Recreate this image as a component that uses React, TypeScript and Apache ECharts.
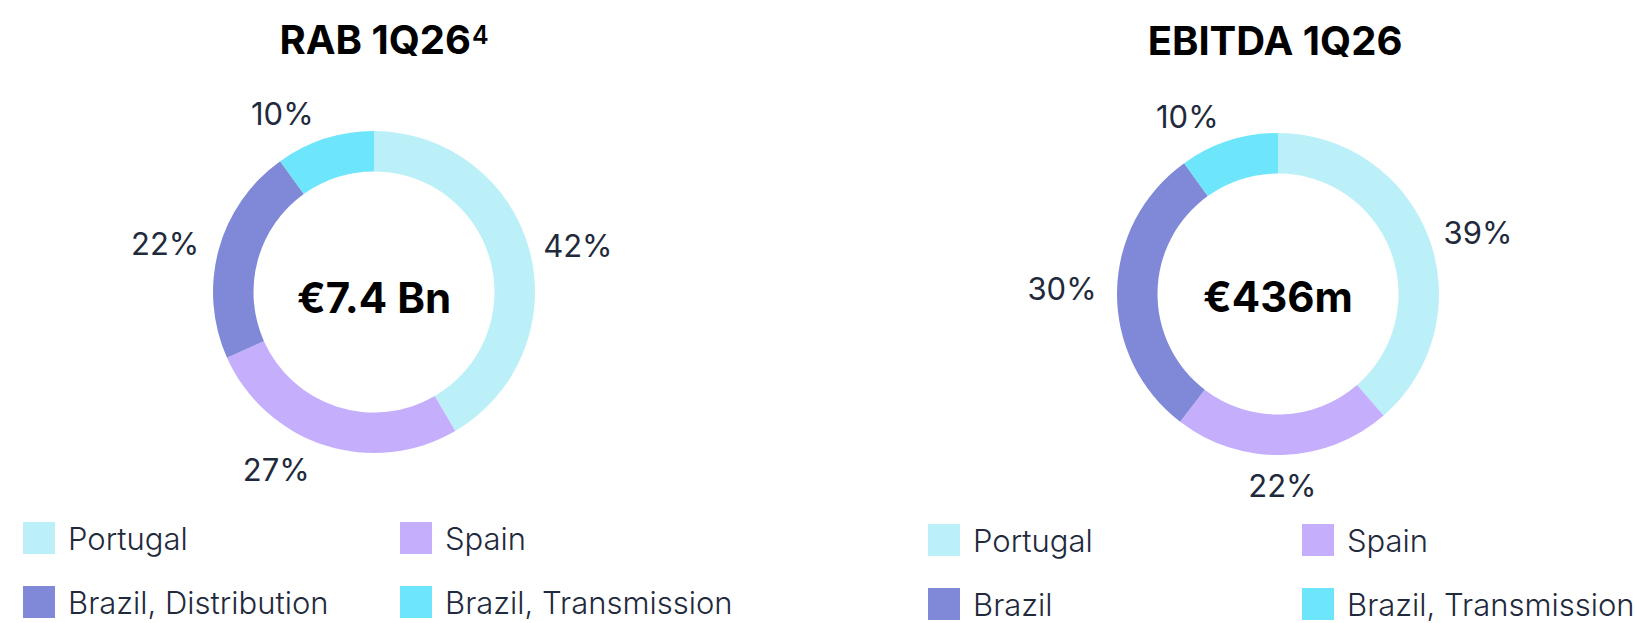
import React, { useEffect, useRef } from "react";
import * as echarts from "echarts";

// ---- Data ----
const RAB_TITLE = "RAB 1Q26";
const RAB_FOOTNOTE = "4";
const RAB_TOTAL = "€7.4 Bn";
const RAB_CATEGORIES = ["Portugal", "Spain", "Brazil, Distribution", "Brazil, Transmission"];
const RAB_SHARES = [42, 27, 22, 10];

const EBITDA_TITLE = "EBITDA 1Q26";
const EBITDA_TOTAL = "€436m";
const EBITDA_CATEGORIES = ["Portugal", "Spain", "Brazil", "Brazil, Transmission"];
const EBITDA_SHARES = [39, 22, 30, 10];

// ---- Styles ----
const COLORS = ["#BCF0F8", "#C5AFFD", "#8089D8", "#6DE5FA"];
const FONT = "Inter, 'Noto Sans', sans-serif";
const TEXT_COLOR = "#1F2A3D";
const RADIUS = [120.5, 161];
const LABEL_RADIUS = [200, 204];
const LEFT_CENTER = [374, 292];
const RIGHT_CENTER = [1278, 294];
const RAB_LABEL_OFFSETS = [[6, 7], [-35, -18], [-11, 5], [-29, 17]];
const EBITDA_LABEL_OFFSETS = [[8, 10], [-2, -13], [-11, -2], [-28, 18]];

function donut(name: string, cats: string[], vals: number[], center: number[]) {
  return {
    type: "pie",
    name,
    center,
    radius: RADIUS,
    startAngle: 90,
    clockwise: true,
    silent: true,
    label: { show: false },
    labelLine: { show: false },
    emphasis: { disabled: true },
    itemStyle: { borderWidth: 0 },
    data: cats.map((c, i) => ({ name: c, value: vals[i], itemStyle: { color: COLORS[i] } })),
  };
}

function labelRing(vals: number[], center: number[], offsets: number[][]) {
  return {
    type: "pie",
    center,
    radius: LABEL_RADIUS,
    startAngle: 90,
    clockwise: true,
    silent: true,
    emphasis: { disabled: true },
    labelLine: { show: false },
    itemStyle: { color: "rgba(0,0,0,0)", borderWidth: 0 },
    label: {
      show: true,
      position: "inside",
      rotate: 0,
      formatter: "{c}%",
      fontSize: 31,
      fontFamily: FONT,
      fontWeight: 400,
      color: TEXT_COLOR,
    },
    data: vals.map((v, i) => ({ value: v, label: { offset: offsets[i] } })),
  };
}

function legends(cats: string[], left1: number, left2: number, top: number) {
  const common = {
    orient: "vertical",
    top,
    icon: "rect",
    itemWidth: 32,
    itemHeight: 32,
    itemGap: 32,
    selectedMode: false,
    padding: 0,
    textStyle: {
      fontSize: 31,
      fontFamily: FONT,
      fontWeight: 300,
      color: TEXT_COLOR,
      padding: [0, 0, 0, 8],
    },
  };
  return [
    { ...common, left: left1, data: [cats[0], cats[2]] },
    { ...common, left: left2, data: [cats[1], cats[3]] },
  ];
}

export default function App() {
  const ref = useRef<HTMLDivElement>(null);
  useEffect(() => {
    if (!ref.current) return;
    const chart = echarts.init(ref.current, null, { renderer: "svg" });
    const titleStyle = (text: string, x: number, y: number, withSup: boolean) => ({
      type: "text",
      style: {
        text: withSup ? `{p|}{t|${text}}{s|${RAB_FOOTNOTE}}` : `{t|${text}}`,
        x,
        y,
        textAlign: "center",
        textVerticalAlign: "middle",
        rich: {
          p: { width: 20 },
          t: { fontSize: 40, fontWeight: 700, fontFamily: FONT, fill: "#000", color: "#000" },
          s: {
            fontSize: 25,
            fontWeight: 600,
            fontFamily: FONT,
            fill: "#000",
            color: "#000",
            verticalAlign: "top",
            padding: [3, 0, 0, 1],
          },
        },
      },
    });
    const centerText = (text: string, x: number, y: number) => ({
      type: "text",
      style: {
        text,
        x,
        y,
        textAlign: "center",
        textVerticalAlign: "middle",
        fontSize: 42,
        fontWeight: 700,
        fontFamily: FONT,
        fill: "#000",
      },
    });
    chart.setOption({
      animation: false,
      backgroundColor: "#ffffff",
      legend: [
        ...legends(RAB_CATEGORIES, 23, 400, 522),
        ...legends(EBITDA_CATEGORIES, 928, 1302, 524),
      ],
      graphic: [
        titleStyle(RAB_TITLE, 374, 39, true),
        titleStyle(EBITDA_TITLE, 1275, 40, false),
        centerText(RAB_TOTAL, LEFT_CENTER[0], 297),
        centerText(EBITDA_TOTAL, RIGHT_CENTER[0], 296),
      ],
      series: [
        donut("RAB", RAB_CATEGORIES, RAB_SHARES, LEFT_CENTER),
        donut("EBITDA", EBITDA_CATEGORIES, EBITDA_SHARES, RIGHT_CENTER),
        labelRing(RAB_SHARES, LEFT_CENTER, RAB_LABEL_OFFSETS),
        labelRing(EBITDA_SHARES, RIGHT_CENTER, EBITDA_LABEL_OFFSETS),
      ],
    });
    return () => chart.dispose();
  }, []);
  return (
    <div
      ref={ref}
      style={{ position: "absolute", left: 0, top: 0, width: 1635, height: 623 }}
    />
  );
}
